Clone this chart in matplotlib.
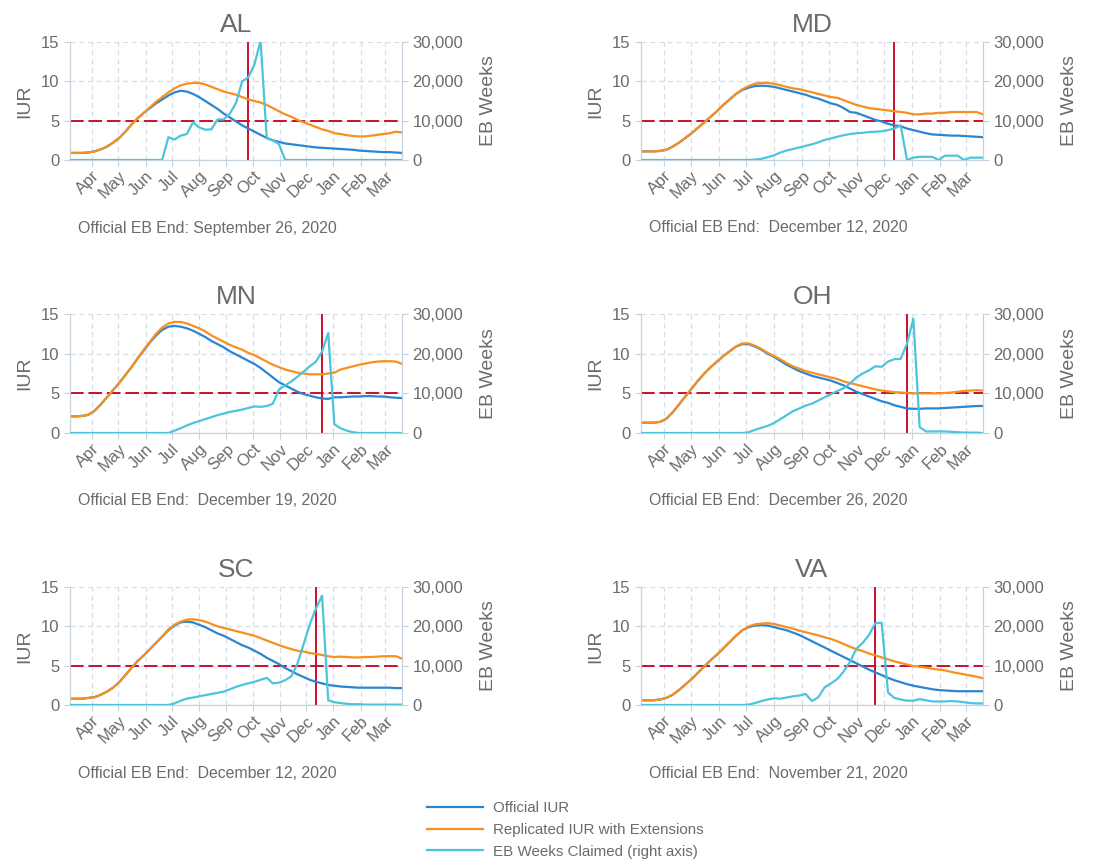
import matplotlib
matplotlib.use("Agg")
import matplotlib.pyplot as plt
import matplotlib.dates as mdates
from matplotlib.lines import Line2D
from matplotlib.ticker import FuncFormatter
import pandas as pd

plt.rcParams["font.family"] = ["Liberation Sans", "DejaVu Sans"]

# weekly observations, Saturdays
weeks = pd.date_range("2020-03-07", periods=55, freq="7D")

states = ["AL", "MD", "MN", "OH", "SC", "VA"]
eb_end = ["2020-09-26", "2020-12-12", "2020-12-19", "2020-12-26", "2020-12-12", "2020-11-21"]
eb_end_text = ["September 26, 2020", " December 12, 2020", " December 19, 2020",
               " December 26, 2020", " December 12, 2020", " November 21, 2020"]

al_official = [0.9, 0.9, 0.9, 0.95, 1.1, 1.35, 1.7, 2.2, 2.8, 3.6, 4.5, 5.3, 6.0, 6.6, 7.2, 7.7, 8.2,
               8.6, 8.8, 8.7, 8.4, 8.0, 7.5, 7.0, 6.5, 5.9, 5.4, 4.9, 4.4, 4.0, 3.6, 3.2, 2.8, 2.5,
               2.3, 2.1, 2.0, 1.9, 1.8, 1.7, 1.6, 1.55, 1.5, 1.45, 1.4, 1.35, 1.3, 1.2, 1.15, 1.1,
               1.05, 1.0, 1.0, 0.95, 0.9]
al_replicated = [0.9, 0.9, 0.9, 0.95, 1.1, 1.35, 1.7, 2.2, 2.8, 3.6, 4.5, 5.3, 6.0, 6.7, 7.4, 8.0,
                 8.6, 9.1, 9.5, 9.7, 9.8, 9.8, 9.6, 9.3, 9.0, 8.7, 8.5, 8.3, 8.0, 7.7, 7.5, 7.3,
                 7.0, 6.6, 6.2, 5.8, 5.5, 5.1, 4.8, 4.5, 4.2, 3.9, 3.7, 3.4, 3.3, 3.15, 3.05, 3.0,
                 3.0, 3.1, 3.2, 3.3, 3.4, 3.6, 3.5]
al_eb = [0, 0, 0, 0, 0, 0, 0, 0, 0, 0, 0, 0, 0, 0, 0, 0, 5800, 5200, 6200, 6600, 9600, 8300,
         7700, 7800, 10300, 10300, 11800, 14500, 20000, 21000, 24300, 30300, 5500, 5000, 4000,
         0, 0, 0, 0, 0, 0, 0, 0, 0, 0, 0, 0, 0, 0, 0, 0, 0, 0, 0, 0]

md_official = [1.1, 1.1, 1.1, 1.15, 1.3, 1.7, 2.2, 2.8, 3.4, 4.1, 4.8, 5.5, 6.2, 7.0, 7.7, 8.4,
               8.9, 9.2, 9.4, 9.45, 9.4, 9.3, 9.1, 8.9, 8.7, 8.5, 8.3, 8.0, 7.8, 7.5, 7.2, 7.0,
               6.6, 6.1, 6.0, 5.7, 5.4, 5.1, 4.9, 4.6, 4.4, 4.3, 4.0, 3.8, 3.6, 3.4, 3.25, 3.2,
               3.15, 3.1, 3.1, 3.05, 3.0, 2.95, 2.9]
md_replicated = [1.1, 1.1, 1.1, 1.15, 1.3, 1.7, 2.2, 2.8, 3.4, 4.1, 4.8, 5.5, 6.2, 7.0, 7.7, 8.4,
                 9.0, 9.4, 9.7, 9.8, 9.8, 9.7, 9.5, 9.3, 9.1, 9.0, 8.8, 8.6, 8.4, 8.2, 8.0, 7.9,
                 7.6, 7.3, 7.0, 6.8, 6.6, 6.5, 6.4, 6.3, 6.2, 6.1, 6.0, 5.8, 5.8, 5.9, 5.9, 6.0,
                 6.0, 6.1, 6.1, 6.1, 6.1, 6.1, 5.8]
md_eb = [0, 0, 0, 0, 0, 0, 0, 0, 0, 0, 0, 0, 0, 0, 0, 0, 0, 0, 100, 300, 700, 1200, 1900, 2400,
         2800, 3200, 3600, 4000, 4500, 5100, 5500, 5900, 6300, 6600, 6800, 6900, 7100, 7200,
         7300, 7600, 8000, 8800, 0, 600, 800, 800, 800, 0, 1100, 1100, 1100, 0, 600, 600, 600]

mn_official = [2.1, 2.1, 2.15, 2.3, 2.8, 3.6, 4.5, 5.4, 6.3, 7.3, 8.3, 9.4, 10.4, 11.4, 12.3, 13.0,
               13.4, 13.5, 13.4, 13.2, 12.9, 12.5, 12.1, 11.6, 11.2, 10.8, 10.3, 9.9, 9.5, 9.1,
               8.7, 8.2, 7.6, 7.0, 6.4, 6.0, 5.6, 5.2, 4.9, 4.7, 4.5, 4.35, 4.3, 4.5, 4.5, 4.55,
               4.6, 4.6, 4.65, 4.65, 4.6, 4.6, 4.5, 4.45, 4.4]
mn_replicated = [2.1, 2.1, 2.15, 2.3, 2.8, 3.6, 4.5, 5.4, 6.3, 7.3, 8.3, 9.4, 10.5, 11.5, 12.5,
                 13.3, 13.8, 14.0, 14.0, 13.8, 13.5, 13.2, 12.8, 12.3, 11.9, 11.5, 11.1, 10.8,
                 10.5, 10.1, 9.8, 9.4, 9.0, 8.6, 8.3, 8.0, 7.8, 7.6, 7.5, 7.4, 7.4, 7.4, 7.5, 7.6,
                 8.0, 8.2, 8.4, 8.6, 8.75, 8.9, 9.0, 9.05, 9.05, 9.0, 8.7]
mn_eb = [0, 0, 0, 0, 0, 0, 0, 0, 0, 0, 0, 0, 0, 0, 0, 0, 0, 600, 1200, 1900, 2500, 3000, 3500,
         4000, 4500, 4900, 5300, 5600, 5900, 6300, 6700, 6600, 6800, 7400, 11000, 12000, 13000,
         14200, 15500, 16800, 18000, 20500, 25200, 2200, 1200, 600, 200, 0, 0, 0, 0, 0, 0, 0, 0]

oh_official = [1.3, 1.3, 1.3, 1.4, 1.8, 2.6, 3.6, 4.6, 5.6, 6.6, 7.5, 8.3, 9.0, 9.7, 10.3, 10.9,
               11.2, 11.2, 10.9, 10.5, 10.0, 9.6, 9.1, 8.6, 8.2, 7.8, 7.5, 7.2, 7.0, 6.8, 6.6,
               6.3, 6.0, 5.6, 5.2, 4.9, 4.6, 4.3, 4.0, 3.8, 3.5, 3.3, 3.1, 3.05, 3.05, 3.1, 3.1,
               3.1, 3.15, 3.2, 3.25, 3.3, 3.35, 3.4, 3.4]
oh_replicated = [1.3, 1.3, 1.3, 1.4, 1.8, 2.6, 3.6, 4.6, 5.6, 6.6, 7.5, 8.3, 9.0, 9.7, 10.3, 10.9,
                 11.3, 11.3, 11.0, 10.6, 10.1, 9.7, 9.3, 8.8, 8.4, 8.1, 7.8, 7.6, 7.4, 7.2, 7.0,
                 6.8, 6.5, 6.3, 6.1, 5.9, 5.7, 5.5, 5.35, 5.25, 5.15, 5.1, 5.05, 5.0, 5.0, 5.0,
                 5.0, 5.0, 5.05, 5.1, 5.2, 5.3, 5.35, 5.4, 5.35]
oh_eb = [0, 0, 0, 0, 0, 0, 0, 0, 0, 0, 0, 0, 0, 0, 0, 0, 0, 200, 800, 1300, 1800, 2500, 3500,
         4500, 5500, 6200, 6900, 7400, 8200, 9000, 9800, 10600, 11300, 12500, 14000, 15000,
         15800, 16800, 16700, 18000, 18600, 18700, 22500, 28800, 1500, 400, 400, 400, 400, 300,
         200, 100, 100, 100, 0]

sc_official = [0.8, 0.8, 0.8, 0.9, 1.0, 1.3, 1.7, 2.2, 2.9, 3.8, 4.7, 5.6, 6.3, 7.1, 7.9, 8.7, 9.5,
               10.1, 10.5, 10.6, 10.5, 10.2, 9.9, 9.5, 9.1, 8.8, 8.4, 8.0, 7.6, 7.3, 6.9, 6.5,
               6.0, 5.6, 5.2, 4.7, 4.3, 3.9, 3.55, 3.2, 2.95, 2.75, 2.55, 2.45, 2.35, 2.3, 2.25,
               2.2, 2.2, 2.2, 2.2, 2.2, 2.2, 2.15, 2.15]
sc_replicated = [0.8, 0.8, 0.8, 0.9, 1.0, 1.3, 1.7, 2.2, 2.9, 3.8, 4.7, 5.6, 6.3, 7.1, 7.9, 8.7,
                 9.6, 10.2, 10.6, 10.85, 10.9, 10.8, 10.6, 10.3, 10.0, 9.8, 9.6, 9.4, 9.2, 9.0,
                 8.8, 8.5, 8.2, 7.9, 7.6, 7.35, 7.1, 6.9, 6.8, 6.6, 6.5, 6.35, 6.2, 6.1, 6.15, 6.1,
                 6.05, 6.05, 6.1, 6.1, 6.15, 6.2, 6.2, 6.2, 5.9]
sc_eb = [0, 0, 0, 0, 0, 0, 0, 0, 0, 0, 0, 0, 0, 0, 0, 0, 0, 400, 1100, 1600, 1900, 2200, 2500,
         2800, 3100, 3400, 4000, 4600, 5100, 5500, 5900, 6400, 6900, 5500, 5700, 6300, 7300,
         10500, 15500, 20500, 24500, 27800, 1200, 700, 500, 300, 200, 200, 100, 100, 100, 100,
         100, 100, 100]

va_official = [0.6, 0.6, 0.6, 0.7, 0.9, 1.3, 1.9, 2.6, 3.3, 4.1, 4.9, 5.7, 6.4, 7.2, 8.0, 8.8, 9.5,
               9.9, 10.1, 10.15, 10.1, 9.9, 9.7, 9.5, 9.2, 8.9, 8.5, 8.1, 7.7, 7.3, 6.9, 6.5,
               6.1, 5.7, 5.3, 4.9, 4.5, 4.15, 3.8, 3.45, 3.15, 2.9, 2.65, 2.45, 2.3, 2.15, 2.0,
               1.9, 1.85, 1.8, 1.75, 1.75, 1.75, 1.75, 1.75]
va_replicated = [0.6, 0.6, 0.6, 0.7, 0.9, 1.3, 1.9, 2.6, 3.3, 4.1, 4.9, 5.7, 6.4, 7.2, 8.0, 8.8,
                 9.5, 10.0, 10.25, 10.35, 10.4, 10.3, 10.1, 9.9, 9.7, 9.45, 9.25, 9.05, 8.85, 8.6,
                 8.4, 8.1, 7.75, 7.4, 7.1, 6.85, 6.55, 6.3, 6.05, 5.8, 5.55, 5.35, 5.15, 4.95,
                 4.85, 4.75, 4.6, 4.5, 4.4, 4.2, 4.05, 3.9, 3.75, 3.6, 3.4]
va_eb = [0, 0, 0, 0, 0, 0, 0, 0, 0, 0, 0, 0, 0, 0, 0, 0, 0, 100, 500, 1000, 1400, 1700, 1600,
         1900, 2200, 2400, 2800, 1000, 2000, 4500, 5500, 6600, 8500, 11000, 14300, 15800, 17800,
         20800, 20900, 3200, 1800, 1400, 1100, 1100, 1500, 1200, 900, 900, 900, 1000, 900, 700,
         500, 400, 400]

official = [al_official, md_official, mn_official, oh_official, sc_official, va_official]
replicated = [al_replicated, md_replicated, mn_replicated, oh_replicated, sc_replicated, va_replicated]
eb_weeks = [al_eb, md_eb, mn_eb, oh_eb, sc_eb, va_eb]

BLUE = "#2a86d1"
ORANGE = "#f7901e"
CYAN = "#4dc3dc"
RED = "#c8102e"
TEXT = "#6b6b6b"
SPINE = "#c6d1de"
GRID = "#d6dee8"

W, H = 1103, 860
fig = plt.figure(figsize=(W / 100, H / 100), dpi=100)

# pixel boxes of the plot areas: (left, top, width, height)
lefts = [70, 641]
widths = [332, 342]
tops = [42, 314, 587]
heights = [118, 119, 118]

for i, st in enumerate(states):
    r, c = divmod(i, 2)
    l, t, w, h = lefts[c], tops[r], widths[c], heights[r]
    ax = fig.add_axes([l / W, 1 - (t + h) / H, w / W, h / H])
    ax2 = ax.twinx()

    ax.plot(weeks, official[i], color=BLUE, lw=1.6, zorder=3)
    ax.plot(weeks, replicated[i], color=ORANGE, lw=1.6, zorder=3)
    ax2.plot(weeks, eb_weeks[i], color=CYAN, lw=1.6, zorder=3)
    ax.axhline(5, color=RED, lw=1.4, dashes=(7, 2.5), zorder=2)
    ax.axvline(pd.Timestamp(eb_end[i]), color=RED, lw=1.4, zorder=2)

    ax.set_xlim(weeks[0], weeks[-1])
    ax.set_ylim(0, 15)
    ax.set_yticks([0, 5, 10, 15])
    ax2.set_ylim(0, 30000)
    ax2.set_yticks([0, 10000, 20000, 30000])
    ax2.yaxis.set_major_formatter(FuncFormatter(lambda v, p: f"{int(v):,}"))

    ax.xaxis.set_major_locator(mdates.MonthLocator())
    ax.xaxis.set_major_formatter(mdates.DateFormatter("%b"))
    for lab in ax.get_xticklabels():
        lab.set_rotation(45)
        lab.set_ha("right")
        lab.set_va("top")
        lab.set_rotation_mode("anchor")

    ax.grid(True, color=GRID, lw=0.9, linestyle=(0, (4, 3)))
    ax.set_axisbelow(True)
    for a in (ax, ax2):
        a.spines["top"].set_visible(False)
        for s in ("left", "right", "bottom"):
            a.spines[s].set_color(SPINE)
        a.tick_params(colors=SPINE, labelcolor=TEXT, labelsize=12, length=4, width=0.8)
    ax.tick_params(axis="x", pad=2)

    ax.set_title(st, fontsize=19, color=TEXT, pad=7)
    ax.set_ylabel("IUR", fontsize=14, color=TEXT, labelpad=6)
    ax2.set_ylabel("EB Weeks", fontsize=14, color=TEXT, labelpad=12)

    fig.text((l + 8) / W, 1 - (t + h + 68) / H, "Official EB End: " + eb_end_text[i],
             fontsize=11.4, color=TEXT, va="center", ha="left")

handles = [Line2D([], [], color=BLUE, lw=1.6),
           Line2D([], [], color=ORANGE, lw=1.6),
           Line2D([], [], color=CYAN, lw=1.6)]
labels = ["Official IUR", "Replicated IUR with Extensions", "EB Weeks Claimed (right axis)"]
leg = fig.legend(handles, labels, loc="upper left", bbox_to_anchor=(427 / W, 1 - 801 / H),
                 frameon=False, fontsize=10.9, handlelength=3.7, handletextpad=0.65,
                 labelspacing=0.52, borderpad=0, borderaxespad=0)
for txt in leg.get_texts():
    txt.set_color(TEXT)

fig.savefig("out.png", dpi=100)
